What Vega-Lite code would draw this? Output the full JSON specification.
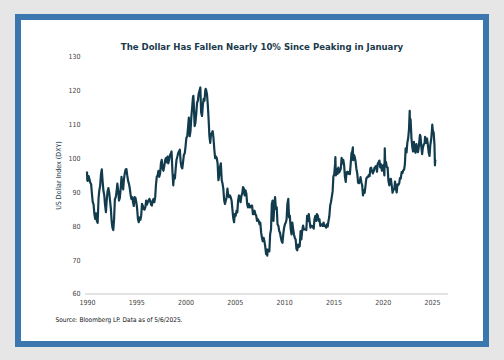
{
  "$schema": "https://vega.github.io/schema/vega-lite/v6.json",
  "width": 468,
  "height": 327,
  "autosize": "none",
  "padding": {"left": 18, "top": 17, "right": 18, "bottom": 16},
  "background": "#e6e6e6",
  "title": {
    "text": "The Dollar Has Fallen Nearly 10% Since Peaking in January",
    "font": "DejaVu Sans Condensed",
    "fontSize": 9.5,
    "fontWeight": "bold",
    "color": "#1b3a4b",
    "anchor": "middle",
    "frame": "group",
    "baseline": "middle",
    "dx": 10,
    "offset": -39
  },
  "config": {
    "view": {"fill": "white", "stroke": "#3b76ae", "strokeWidth": 6},
    "axis": {
      "labelFont": "DejaVu Sans Condensed",
      "labelFontSize": 7,
      "labelColor": "#444444",
      "titleFont": "DejaVu Sans Condensed",
      "grid": false,
      "domain": false,
      "ticks": false
    }
  },
  "data": {
    "values": [
      {"t":1990.00,"v":96.2},{"t":1990.03,"v":93.6},{"t":1990.08,"v":93.4},{"t":1990.17,"v":94.8},{"t":1990.25,"v":93.9},{"t":1990.33,"v":92.9},{"t":1990.42,"v":92.4},{"t":1990.50,"v":89.6},{"t":1990.58,"v":87.2},{"t":1990.67,"v":86.4},{"t":1990.75,"v":83.6},{"t":1990.83,"v":82.2},{"t":1990.92,"v":83.8},
      {"t":1991.00,"v":81.6},{"t":1991.08,"v":81.0},{"t":1991.17,"v":88.2},{"t":1991.25,"v":90.6},{"t":1991.33,"v":91.8},{"t":1991.42,"v":95.4},{"t":1991.50,"v":96.8},{"t":1991.58,"v":93.4},{"t":1991.67,"v":90.4},{"t":1991.75,"v":89.2},{"t":1991.83,"v":86.4},{"t":1991.92,"v":84.2},
      {"t":1992.00,"v":87.6},{"t":1992.08,"v":90.2},{"t":1992.17,"v":91.3},{"t":1992.25,"v":90.0},{"t":1992.33,"v":87.8},{"t":1992.42,"v":85.2},{"t":1992.50,"v":81.6},{"t":1992.58,"v":79.6},{"t":1992.67,"v":78.9},{"t":1992.75,"v":82.2},{"t":1992.83,"v":88.0},{"t":1992.92,"v":88.6},
      {"t":1993.00,"v":90.2},{"t":1993.08,"v":92.6},{"t":1993.17,"v":90.4},{"t":1993.25,"v":87.6},{"t":1993.33,"v":88.4},{"t":1993.42,"v":91.2},{"t":1993.50,"v":94.6},{"t":1993.58,"v":92.1},{"t":1993.67,"v":90.9},{"t":1993.75,"v":93.9},{"t":1993.83,"v":95.6},{"t":1993.92,"v":96.8},
      {"t":1994.00,"v":96.9},{"t":1994.08,"v":95.1},{"t":1994.17,"v":93.4},{"t":1994.25,"v":92.6},{"t":1994.33,"v":91.4},{"t":1994.42,"v":89.4},{"t":1994.50,"v":88.1},{"t":1994.58,"v":88.6},{"t":1994.67,"v":87.1},{"t":1994.75,"v":86.0},{"t":1994.83,"v":88.6},{"t":1994.92,"v":88.4},
      {"t":1995.00,"v":87.1},{"t":1995.08,"v":85.4},{"t":1995.17,"v":82.1},{"t":1995.25,"v":81.2},{"t":1995.33,"v":82.6},{"t":1995.42,"v":81.9},{"t":1995.50,"v":83.1},{"t":1995.58,"v":86.6},{"t":1995.67,"v":86.0},{"t":1995.75,"v":85.1},{"t":1995.83,"v":84.9},{"t":1995.92,"v":85.6},
      {"t":1996.00,"v":87.6},{"t":1996.08,"v":86.4},{"t":1996.17,"v":87.1},{"t":1996.25,"v":87.6},{"t":1996.33,"v":88.1},{"t":1996.42,"v":87.4},{"t":1996.50,"v":86.4},{"t":1996.58,"v":86.1},{"t":1996.67,"v":87.6},{"t":1996.75,"v":88.1},{"t":1996.83,"v":87.1},{"t":1996.92,"v":88.6},
      {"t":1997.00,"v":92.4},{"t":1997.08,"v":94.6},{"t":1997.17,"v":95.1},{"t":1997.25,"v":96.4},{"t":1997.33,"v":94.6},{"t":1997.42,"v":95.6},{"t":1997.50,"v":98.6},{"t":1997.58,"v":99.6},{"t":1997.67,"v":97.1},{"t":1997.75,"v":96.4},{"t":1997.83,"v":97.6},{"t":1997.92,"v":99.4},
      {"t":1998.00,"v":100.1},{"t":1998.08,"v":98.9},{"t":1998.17,"v":100.6},{"t":1998.25,"v":98.6},{"t":1998.33,"v":99.6},{"t":1998.42,"v":101.1},{"t":1998.50,"v":101.4},{"t":1998.58,"v":102.1},{"t":1998.67,"v":96.1},{"t":1998.75,"v":92.1},{"t":1998.83,"v":95.1},{"t":1998.92,"v":94.1},
      {"t":1999.00,"v":97.1},{"t":1999.08,"v":99.6},{"t":1999.17,"v":100.6},{"t":1999.25,"v":101.6},{"t":1999.33,"v":102.1},{"t":1999.42,"v":102.6},{"t":1999.50,"v":99.1},{"t":1999.58,"v":97.6},{"t":1999.67,"v":97.1},{"t":1999.75,"v":99.1},{"t":1999.83,"v":101.1},{"t":1999.92,"v":101.6},
      {"t":2000.00,"v":103.6},{"t":2000.08,"v":106.1},{"t":2000.17,"v":106.6},{"t":2000.25,"v":109.1},{"t":2000.33,"v":112.1},{"t":2000.42,"v":106.6},{"t":2000.50,"v":108.1},{"t":2000.58,"v":112.1},{"t":2000.67,"v":115.1},{"t":2000.75,"v":118.1},{"t":2000.79,"v":118.5},{"t":2000.83,"v":116.6},{"t":2000.92,"v":109.6},
      {"t":2001.00,"v":110.6},{"t":2001.08,"v":113.1},{"t":2001.17,"v":116.6},{"t":2001.25,"v":117.1},{"t":2001.33,"v":119.1},{"t":2001.42,"v":120.1},{"t":2001.50,"v":121.0},{"t":2001.58,"v":113.6},{"t":2001.67,"v":112.6},{"t":2001.75,"v":115.6},{"t":2001.83,"v":117.6},{"t":2001.92,"v":117.1},
      {"t":2002.00,"v":120.1},{"t":2002.04,"v":120.6},{"t":2002.08,"v":120.3},{"t":2002.17,"v":119.1},{"t":2002.25,"v":116.1},{"t":2002.33,"v":112.1},{"t":2002.42,"v":106.6},{"t":2002.50,"v":104.6},{"t":2002.58,"v":107.1},{"t":2002.67,"v":107.6},{"t":2002.75,"v":108.1},{"t":2002.83,"v":106.1},{"t":2002.92,"v":102.6},
      {"t":2003.00,"v":100.1},{"t":2003.08,"v":100.6},{"t":2003.17,"v":100.1},{"t":2003.25,"v":98.6},{"t":2003.33,"v":93.6},{"t":2003.42,"v":95.1},{"t":2003.50,"v":97.6},{"t":2003.58,"v":98.6},{"t":2003.67,"v":93.6},{"t":2003.75,"v":92.6},{"t":2003.83,"v":91.1},{"t":2003.92,"v":87.6},
      {"t":2004.00,"v":86.6},{"t":2004.08,"v":87.6},{"t":2004.17,"v":88.6},{"t":2004.25,"v":91.1},{"t":2004.33,"v":89.1},{"t":2004.42,"v":88.6},{"t":2004.50,"v":89.1},{"t":2004.58,"v":88.6},{"t":2004.67,"v":87.6},{"t":2004.75,"v":85.1},{"t":2004.83,"v":82.6},{"t":2004.92,"v":81.2},
      {"t":2005.00,"v":83.6},{"t":2005.08,"v":83.1},{"t":2005.17,"v":84.6},{"t":2005.25,"v":84.1},{"t":2005.33,"v":87.6},{"t":2005.42,"v":89.1},{"t":2005.50,"v":88.1},{"t":2005.58,"v":87.1},{"t":2005.67,"v":89.1},{"t":2005.75,"v":89.6},{"t":2005.83,"v":91.6},{"t":2005.92,"v":91.1},
      {"t":2006.00,"v":89.1},{"t":2006.08,"v":90.6},{"t":2006.17,"v":89.6},{"t":2006.25,"v":86.6},{"t":2006.33,"v":85.6},{"t":2006.42,"v":86.6},{"t":2006.50,"v":85.6},{"t":2006.58,"v":85.6},{"t":2006.67,"v":86.1},{"t":2006.75,"v":86.1},{"t":2006.83,"v":83.6},{"t":2006.92,"v":83.6},
      {"t":2007.00,"v":84.6},{"t":2007.08,"v":83.6},{"t":2007.17,"v":83.1},{"t":2007.25,"v":81.6},{"t":2007.33,"v":82.1},{"t":2007.42,"v":81.6},{"t":2007.50,"v":80.6},{"t":2007.58,"v":81.1},{"t":2007.67,"v":78.1},{"t":2007.75,"v":76.6},{"t":2007.83,"v":75.6},{"t":2007.92,"v":76.6},
      {"t":2008.00,"v":75.6},{"t":2008.08,"v":74.1},{"t":2008.17,"v":71.8},{"t":2008.25,"v":73.1},{"t":2008.29,"v":71.3},{"t":2008.33,"v":73.1},{"t":2008.42,"v":72.6},{"t":2008.50,"v":72.6},{"t":2008.58,"v":77.6},{"t":2008.67,"v":79.1},{"t":2008.75,"v":86.6},{"t":2008.83,"v":87.6},{"t":2008.92,"v":81.6},
      {"t":2009.00,"v":86.1},{"t":2009.08,"v":88.6},{"t":2009.17,"v":85.1},{"t":2009.25,"v":85.6},{"t":2009.33,"v":80.6},{"t":2009.42,"v":80.1},{"t":2009.50,"v":78.6},{"t":2009.58,"v":78.1},{"t":2009.67,"v":76.6},{"t":2009.75,"v":75.6},{"t":2009.83,"v":75.1},{"t":2009.92,"v":77.9},
      {"t":2010.00,"v":79.6},{"t":2010.08,"v":80.6},{"t":2010.17,"v":81.1},{"t":2010.25,"v":82.1},{"t":2010.33,"v":86.6},{"t":2010.42,"v":88.1},{"t":2010.50,"v":82.6},{"t":2010.58,"v":83.1},{"t":2010.67,"v":79.1},{"t":2010.75,"v":77.6},{"t":2010.83,"v":81.1},{"t":2010.92,"v":79.1},
      {"t":2011.00,"v":77.6},{"t":2011.08,"v":76.6},{"t":2011.17,"v":76.1},{"t":2011.25,"v":73.3},{"t":2011.33,"v":72.9},{"t":2011.42,"v":74.6},{"t":2011.50,"v":73.9},{"t":2011.58,"v":74.1},{"t":2011.67,"v":78.6},{"t":2011.75,"v":76.1},{"t":2011.83,"v":78.6},{"t":2011.92,"v":80.2},
      {"t":2012.00,"v":79.1},{"t":2012.08,"v":79.1},{"t":2012.17,"v":79.1},{"t":2012.25,"v":78.9},{"t":2012.33,"v":83.1},{"t":2012.42,"v":81.6},{"t":2012.50,"v":83.6},{"t":2012.58,"v":81.6},{"t":2012.67,"v":79.6},{"t":2012.75,"v":80.1},{"t":2012.83,"v":80.1},{"t":2012.92,"v":79.8},
      {"t":2013.00,"v":79.3},{"t":2013.08,"v":82.1},{"t":2013.17,"v":83.1},{"t":2013.25,"v":81.6},{"t":2013.33,"v":83.6},{"t":2013.42,"v":83.1},{"t":2013.50,"v":81.6},{"t":2013.58,"v":82.1},{"t":2013.67,"v":80.1},{"t":2013.75,"v":80.6},{"t":2013.83,"v":80.6},{"t":2013.92,"v":80.1},
      {"t":2014.00,"v":81.1},{"t":2014.08,"v":80.1},{"t":2014.17,"v":80.1},{"t":2014.25,"v":79.6},{"t":2014.33,"v":80.6},{"t":2014.42,"v":79.9},{"t":2014.50,"v":81.6},{"t":2014.58,"v":82.8},{"t":2014.67,"v":86.1},{"t":2014.75,"v":87.1},{"t":2014.83,"v":88.6},{"t":2014.92,"v":90.3},
      {"t":2015.00,"v":94.8},{"t":2015.08,"v":95.3},{"t":2015.17,"v":98.5},{"t":2015.20,"v":100.4},{"t":2015.25,"v":95.0},{"t":2015.33,"v":96.9},{"t":2015.42,"v":95.5},{"t":2015.50,"v":97.3},{"t":2015.58,"v":95.9},{"t":2015.67,"v":96.4},{"t":2015.75,"v":97.0},{"t":2015.83,"v":100.2},{"t":2015.92,"v":98.6},
      {"t":2016.00,"v":99.6},{"t":2016.08,"v":98.2},{"t":2016.17,"v":94.6},{"t":2016.25,"v":93.1},{"t":2016.33,"v":95.9},{"t":2016.42,"v":96.1},{"t":2016.50,"v":95.5},{"t":2016.58,"v":96.0},{"t":2016.67,"v":95.4},{"t":2016.75,"v":98.4},{"t":2016.83,"v":101.5},{"t":2016.92,"v":102.2},{"t":2016.97,"v":103.3},
      {"t":2017.00,"v":99.5},{"t":2017.08,"v":101.1},{"t":2017.17,"v":100.4},{"t":2017.25,"v":99.1},{"t":2017.33,"v":97.0},{"t":2017.42,"v":95.6},{"t":2017.50,"v":92.9},{"t":2017.58,"v":92.7},{"t":2017.67,"v":93.1},{"t":2017.75,"v":94.5},{"t":2017.83,"v":93.0},{"t":2017.92,"v":92.1},
      {"t":2018.00,"v":89.1},{"t":2018.08,"v":90.6},{"t":2018.17,"v":89.9},{"t":2018.25,"v":91.8},{"t":2018.33,"v":94.0},{"t":2018.42,"v":94.5},{"t":2018.50,"v":94.5},{"t":2018.58,"v":95.1},{"t":2018.67,"v":94.8},{"t":2018.75,"v":97.1},{"t":2018.83,"v":97.3},{"t":2018.92,"v":96.2},
      {"t":2019.00,"v":95.6},{"t":2019.08,"v":96.2},{"t":2019.17,"v":97.3},{"t":2019.25,"v":97.5},{"t":2019.33,"v":97.8},{"t":2019.42,"v":96.1},{"t":2019.50,"v":98.5},{"t":2019.58,"v":98.9},{"t":2019.67,"v":99.4},{"t":2019.75,"v":97.4},{"t":2019.83,"v":98.3},{"t":2019.92,"v":96.4},
      {"t":2020.00,"v":97.4},{"t":2020.08,"v":98.1},{"t":2020.17,"v":95.0},{"t":2020.21,"v":103.0},{"t":2020.25,"v":99.0},{"t":2020.33,"v":99.0},{"t":2020.42,"v":97.4},{"t":2020.50,"v":97.4},{"t":2020.58,"v":93.4},{"t":2020.67,"v":92.1},{"t":2020.75,"v":93.9},{"t":2020.83,"v":94.0},{"t":2020.92,"v":91.9},
      {"t":2021.00,"v":89.9},{"t":2021.08,"v":90.9},{"t":2021.17,"v":90.9},{"t":2021.25,"v":93.2},{"t":2021.33,"v":91.3},{"t":2021.42,"v":90.0},{"t":2021.50,"v":92.4},{"t":2021.58,"v":92.2},{"t":2021.67,"v":92.6},{"t":2021.75,"v":94.2},{"t":2021.83,"v":94.1},{"t":2021.92,"v":96.0},
      {"t":2022.00,"v":95.7},{"t":2022.08,"v":96.5},{"t":2022.17,"v":96.7},{"t":2022.25,"v":98.3},{"t":2022.33,"v":103.0},{"t":2022.42,"v":101.8},{"t":2022.50,"v":104.7},{"t":2022.58,"v":105.9},{"t":2022.67,"v":108.7},{"t":2022.74,"v":114.1},{"t":2022.75,"v":112.1},{"t":2022.83,"v":111.5},{"t":2022.92,"v":105.9},
      {"t":2023.00,"v":103.5},{"t":2023.08,"v":102.1},{"t":2023.17,"v":104.9},{"t":2023.25,"v":102.5},{"t":2023.33,"v":101.7},{"t":2023.42,"v":104.3},{"t":2023.50,"v":102.9},{"t":2023.58,"v":101.9},{"t":2023.67,"v":103.6},{"t":2023.75,"v":106.2},{"t":2023.78,"v":107.0},{"t":2023.83,"v":106.7},{"t":2023.92,"v":103.5},
      {"t":2024.00,"v":101.3},{"t":2024.08,"v":103.3},{"t":2024.17,"v":104.2},{"t":2024.25,"v":104.5},{"t":2024.30,"v":106.4},{"t":2024.33,"v":106.2},{"t":2024.42,"v":104.6},{"t":2024.50,"v":105.9},{"t":2024.58,"v":104.1},{"t":2024.67,"v":101.7},{"t":2024.75,"v":100.8},{"t":2024.83,"v":104.0},{"t":2024.92,"v":105.7},
      {"t":2025.00,"v":108.5},{"t":2025.03,"v":110.0},{"t":2025.08,"v":108.4},{"t":2025.17,"v":107.6},{"t":2025.25,"v":104.2},{"t":2025.30,"v":98.0},{"t":2025.33,"v":99.5},{"t":2025.35,"v":99.2}
    ]
  },
  "layer": [
    {
      "mark": {"type": "rule", "color": "#e3e3e3", "strokeWidth": 1.5},
      "encoding": {
        "x": {"datum": 1989.8, "type": "quantitative"},
        "x2": {"datum": 2026.6},
        "y": {"datum": 60, "type": "quantitative"}
      }
    },
    {
      "mark": {"type": "line", "color": "#123c4e", "strokeWidth": 2.2, "strokeJoin": "round"},
      "encoding": {
        "x": {
          "field": "t",
          "type": "quantitative",
          "scale": {"domain": [1983.0, 2030.48], "nice": false, "zero": false},
          "axis": {
            "orient": "bottom",
            "offset": -50,
            "values": [1990, 1995, 2000, 2005, 2010, 2015, 2020, 2025],
            "format": "d",
            "labelPadding": 4,
            "title": "Source: Bloomberg LP. Data as of 5/6/2025.",
            "titleFontSize": 6.5,
            "titleFontWeight": "normal",
            "titleColor": "#111111",
            "titleAnchor": "start",
            "titleAlign": "left",
            "titleBaseline": "middle",
            "titleX": 37,
            "titleY": 25
          }
        },
        "y": {
          "field": "v",
          "type": "quantitative",
          "scale": {"domain": [45.23, 141.81], "nice": false, "zero": false},
          "axis": {
            "orient": "left",
            "offset": -67,
            "values": [60, 70, 80, 90, 100, 110, 120, 130],
            "labelPadding": 5,
            "title": "US Dollar Index (DXY)",
            "titleFontSize": 7,
            "titleFontWeight": "normal",
            "titleColor": "#1b3a4b",
            "titleBaseline": "middle",
            "titleX": -27,
            "titleY": 158
          }
        }
      }
    }
  ]
}
